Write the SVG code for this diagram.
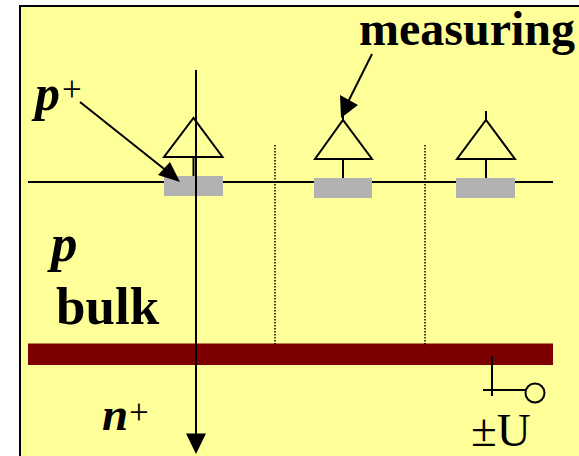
<svg xmlns="http://www.w3.org/2000/svg" width="579" height="456" viewBox="0 0 579 456">
<style>
.s{stroke:#000;stroke-width:2;fill:none}
.t{font-family:"Liberation Serif",serif;fill:#000}
.b{font-weight:bold}
.i{font-weight:bold;font-style:italic}
.pad{fill:#b2b2b2}
.tri{stroke:#000;stroke-width:2;fill:none;stroke-linejoin:miter}
.dot{stroke:#000;stroke-width:1.5;stroke-dasharray:1.5 1.5;fill:none}
</style>
<rect id="background" x="20" y="6" width="560" height="451" fill="#ffff99" stroke="#000" stroke-width="2"/>
<rect id="implant" x="28" y="343.500" width="525" height="21.500" fill="#7c0000"/>
<g id="strips">
<line class="s" x1="28" y1="182" x2="553" y2="182"/>
<rect class="pad" x="164" y="176" width="59" height="20"/>
<rect class="pad" x="314" y="178" width="58" height="20"/>
<rect class="pad" x="456" y="178" width="59" height="20"/>
</g>
<g id="amp1"><path class="tri" d="M164 157H222.500L193.500 118Z"/><line class="s" x1="193.500" y1="157" x2="193.500" y2="176"/></g>
<g id="amp2"><path class="tri" d="M315 159H372L343 120Z"/><line class="s" x1="343" y1="159" x2="343" y2="178"/><line class="s" x1="343" y1="120" x2="343" y2="111"/></g>
<g id="amp3"><path class="tri" d="M457 159H515L486 120Z"/><line class="s" x1="486" y1="159" x2="486" y2="178"/><line class="s" x1="486" y1="120" x2="486" y2="111"/></g>
<g id="connectors">
<line class="dot" x1="275" y1="145" x2="275" y2="346"/>
<line class="dot" x1="425" y1="145" x2="425" y2="346"/>
<line class="s" x1="196" y1="70" x2="196" y2="437"/>
<path d="M186 433.500H206L196 454Z" fill="#000"/>
<line class="s" x1="80" y1="102" x2="168" y2="172"/>
<path d="M170 162L180 182L158 175Z" fill="#000"/>
<line class="s" x1="372" y1="54" x2="348" y2="102"/>
<path d="M340 95L358 105L341 118Z" fill="#000"/>
<line class="s" x1="492" y1="356" x2="492" y2="396"/>
<line class="s" x1="483" y1="390" x2="526" y2="390"/>
<circle cx="535" cy="393" r="9.500" class="s"/>
</g>
<g id="labels">
<text class="t b" x="359" y="45" font-size="48">measuring</text>
<text class="t i" x="35" y="110" font-size="50">p</text>
<text class="t" x="62" y="101" font-size="35">+</text>
<text class="t i" x="51" y="261" font-size="53">p</text>
<text class="t b" x="56" y="324" font-size="53">bulk</text>
<text class="t i" x="102" y="430" font-size="47">n</text>
<text class="t" x="129" y="424" font-size="35">+</text>
<text class="t" x="471" y="446" font-size="47">±U</text>
</g>
</svg>
